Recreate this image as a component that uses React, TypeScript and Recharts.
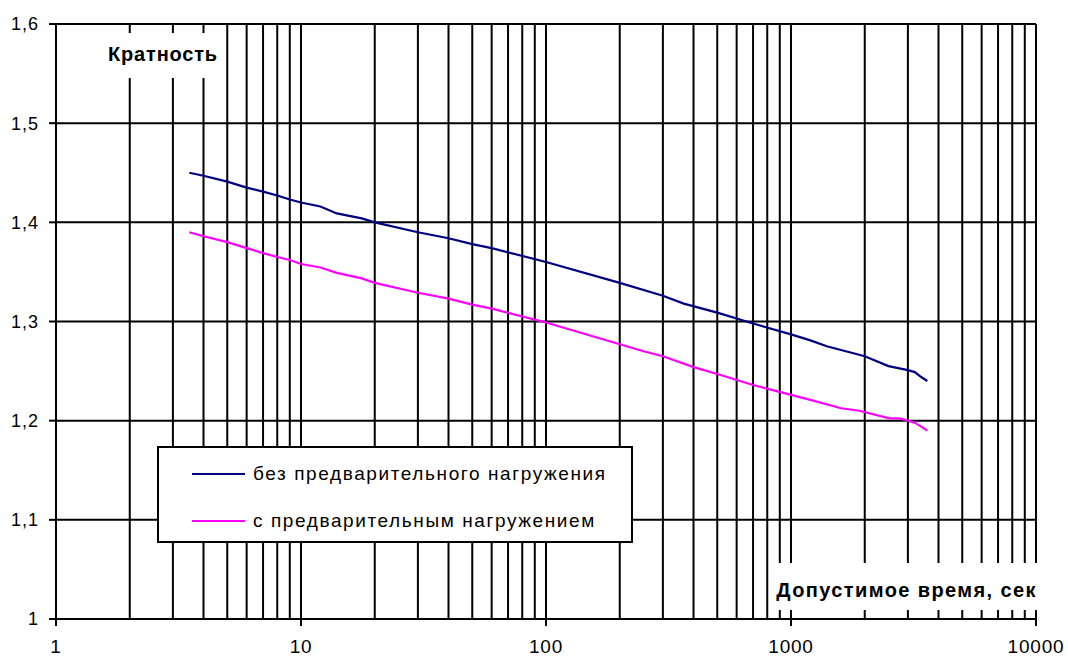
import React from "react";
import { LineChart, Line, XAxis, YAxis, CartesianGrid, Legend } from "recharts";

const blueTimes = [3.5, 4, 5, 6, 7, 8, 9, 10, 12, 14, 17.7, 20, 30, 40, 50, 60, 100, 200, 300, 365, 500, 700, 1000, 1200, 1400, 2000, 2500, 3000, 3200, 3400, 3600];
const blueValues = [1.45, 1.447, 1.441, 1.435, 1.431, 1.427, 1.423, 1.42, 1.416, 1.409, 1.404, 1.4, 1.39, 1.384, 1.378, 1.374, 1.36, 1.339, 1.326, 1.318, 1.309, 1.298, 1.287, 1.281, 1.275, 1.265, 1.255, 1.251, 1.249, 1.244, 1.24];

const pinkTimes = [3.5, 4, 5, 6, 7, 8, 9, 10, 12, 14, 17.7, 20, 30, 40, 50, 60, 100, 200, 250, 300, 400, 500, 700, 1000, 1200, 1600, 1900, 2500, 2800, 3200, 3400, 3600];
const pinkValues = [1.39, 1.386, 1.38, 1.374, 1.369, 1.365, 1.362, 1.358, 1.3545, 1.349, 1.3435, 1.339, 1.329, 1.323, 1.317, 1.313, 1.299, 1.277, 1.27, 1.265, 1.254, 1.247, 1.236, 1.226, 1.221, 1.2125, 1.21, 1.2025, 1.202, 1.198, 1.194, 1.19];

const seriesNames = ["без предварительного нагружения", "с предварительным нагружением"];
const seriesColors = ["#000080", "#FF00FF"];

const xTicks = [1, 2, 3, 4, 5, 6, 7, 8, 9, 10, 20, 30, 40, 50, 60, 70, 80, 90, 100, 200, 300, 400, 500, 600, 700, 800, 900, 1000, 2000, 3000, 4000, 5000, 6000, 7000, 8000, 9000, 10000];
const majorTicks = [1, 10, 100, 1000, 10000];
const yTicks = [1, 1.1, 1.2, 1.3, 1.4, 1.5, 1.6];

const yTitle = "Кратность";
const xTitle = "Допустимое время, сек";

const blueData = blueTimes.map((t, i) => ({ t, v: blueValues[i] }));
const pinkData = pinkTimes.map((t, i) => ({ t, v: pinkValues[i] }));

const FONT = "'Liberation Sans', Arial, sans-serif";
const TICK_SIZE = 7;
const TICK_MARGIN = 14;

const XTick = (props: any) => {
  const { x, y, payload } = props;
  const v = payload.value;
  if (!majorTicks.includes(v)) return null;
  const axisY = y - TICK_SIZE - TICK_MARGIN;
  return (
    <g>
      <line x1={x} x2={x} y1={axisY} y2={axisY + TICK_SIZE} stroke="#000" strokeWidth={2} />
      <text x={x} y={y} dy="0.71em" textAnchor="middle" fill="#000" fontSize={19} letterSpacing={0.8} fontFamily={FONT}>
        {String(v)}
      </text>
    </g>
  );
};

const YTitle = (props: any) => {
  const vb = props.viewBox || {};
  const left = vb.x + vb.width; // plot left
  const top = vb.y;
  return (
    <g>
      <rect x={left + 44} y={top + 9} width={124} height={45} fill="#fff" />
      <text x={left + 107} y={top + 37} textAnchor="middle" fill="#000" fontSize={20} fontWeight="bold" letterSpacing={0.8} fontFamily={FONT}>
        {yTitle}
      </text>
    </g>
  );
};

const XTitle = (props: any) => {
  const vb = props.viewBox || {};
  const right = vb.x + vb.width;
  const axisY = vb.y;
  return (
    <g>
      <rect x={right - 266} y={axisY - 56} width={270} height={47} fill="#fff" />
      <text x={right + 1} y={axisY - 22} textAnchor="end" fill="#000" fontSize={20} fontWeight="bold" fontFamily={FONT} letterSpacing={1.4}>
        {xTitle}
      </text>
    </g>
  );
};

const LegendBox = (props: any) => {
  const payload = props.payload || [];
  return (
    <div
      style={{
        width: 476,
        height: 97,
        boxSizing: "border-box",
        border: "2px solid #000",
        background: "#fff",
        position: "relative",
        fontFamily: FONT,
      }}
    >
      {payload.map((p: any, i: number) => (
        <div key={i} style={{ position: "absolute", left: 33, top: 26 + i * 47 - 12, height: 24, display: "flex", alignItems: "center" }}>
          <div style={{ width: 53, height: 2, background: p.color }} />
          <span style={{ marginLeft: 8, fontSize: 19, color: "#000", letterSpacing: 1.6, whiteSpace: "nowrap" }}>{p.value}</span>
        </div>
      ))}
    </div>
  );
};

export default function App() {
  return (
    <div style={{ position: "absolute", left: 0, top: 0, width: 1068, height: 659, background: "#fff" }}>
      <LineChart width={1068} height={659} margin={{ top: 24, right: 32, bottom: 0, left: 0 }} style={{ fontFamily: FONT }}>
        <CartesianGrid stroke="#000" strokeWidth={2} />
        <XAxis
          dataKey="t"
          type="number"
          scale="log"
          domain={[1, 10000]}
          ticks={xTicks}
          allowDataOverflow
          interval={0}
          height={40}
          tickSize={TICK_SIZE}
          tickMargin={TICK_MARGIN}
          tickLine={false}
          tick={<XTick />}
          axisLine={{ stroke: "#000", strokeWidth: 2 }}
          label={<XTitle />}
        />
        <YAxis
          type="number"
          domain={[1, 1.6]}
          ticks={yTicks}
          interval={0}
          width={56}
          tickSize={7}
          tickMargin={10}
          tickLine={{ stroke: "#000", strokeWidth: 2 }}
          axisLine={{ stroke: "#000", strokeWidth: 2 }}
          tick={{ fill: "#000", fontSize: 18, letterSpacing: 1, fontFamily: FONT }}
          tickFormatter={(v: number) => String(v).replace(".", ",")}
          label={<YTitle />}
        />
        <Legend
          layout="horizontal"
          verticalAlign="middle"
          align="center"
          content={<LegendBox />}
          wrapperStyle={{ left: 157, top: 446, width: 476, height: 97 }}
        />
        <Line data={blueData} dataKey="v" name={seriesNames[0]} stroke={seriesColors[0]} strokeWidth={2.2} dot={false} isAnimationActive={false} type="linear" />
        <Line data={pinkData} dataKey="v" name={seriesNames[1]} stroke={seriesColors[1]} strokeWidth={2.2} dot={false} isAnimationActive={false} type="linear" />
      </LineChart>
    </div>
  );
}
